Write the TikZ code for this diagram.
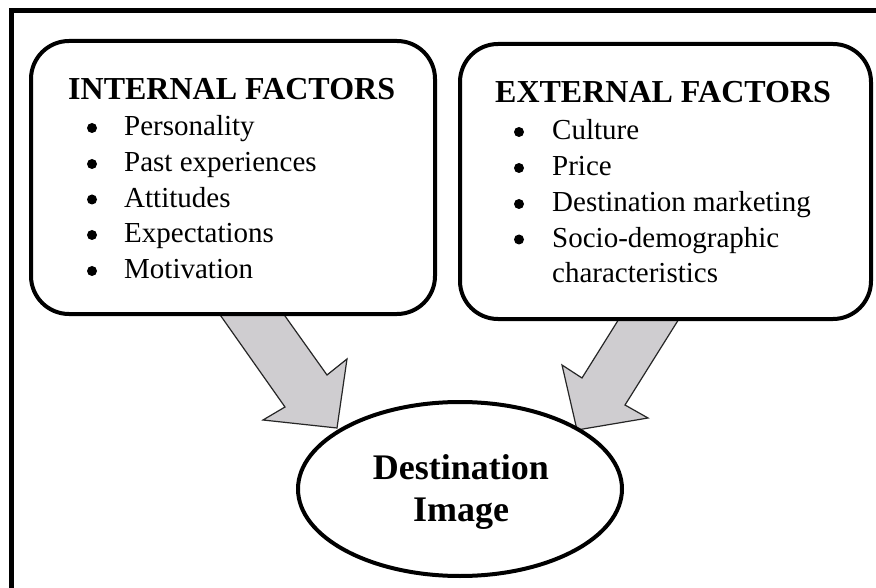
\documentclass[tikz,border=0pt]{standalone}
\usepackage{fontspec}
\setmainfont{Liberation Serif}
\usetikzlibrary{shapes.geometric}
\definecolor{arrowgray}{RGB}{207,205,208}
\begin{document}
\begin{tikzpicture}[x=1pt,y=-1pt,
  factorbox/.style={draw=black, line width=4pt, fill=white, rounded corners=38pt, inner sep=0pt},
  bigarrow/.style={draw=black!85, line width=1.2pt, fill=arrowgray, line join=miter},
  heading/.style={font=\fontsize{32}{36}\selectfont\bfseries, anchor=base west, inner sep=0pt},
  item/.style={font=\fontsize{29}{34}\selectfont, anchor=base west, inner sep=0pt},
  bulletdot/.style={circle, fill=black, minimum size=10pt, inner sep=0pt},
  destlabel/.style={font=\fontsize{36}{42}\selectfont\bfseries, anchor=base, inner sep=0pt}]
\useasboundingbox (0,0) rectangle (876,588);
\fill[white] (0,0) rectangle (876,588);
% outer frame (only left and top edges visible)
\draw[line width=5.5pt, line join=miter] (11.5,590) -- (11.5,10.5) -- (878,10.5);

% arrows
\draw[bigarrow] (209.6,300) -- (273.6,300) -- (327,375) -- (347,359) -- (337,428) -- (263,420) -- (285,407) -- cycle;
\draw[bigarrow] (630.8,300) -- (690.8,300) -- (625,405) -- (648,418) -- (577,430) -- (562,365) -- (582,378) -- cycle;

% boxes
\node[factorbox, minimum width=404pt, minimum height=273pt] (internal) at (233,177.5) {};
\node[factorbox, minimum width=411pt, minimum height=275pt] (external) at (665.5,181.5) {};

% destination ellipse
\node[draw, line width=4pt, fill=white, ellipse, minimum width=324pt, minimum height=174pt, inner sep=0pt] (dest) at (460,489) {};

% internal text
\node[heading] (ih) at (68,100) {INTERNAL FACTORS};
\node[item] (i1) at (124,136) {Personality};
\node[item] (i2) at (124,172) {Past experiences};
\node[item] (i3) at (124,207.5) {Attitudes};
\node[item] (i4) at (124,243) {Expectations};
\node[item] (i5) at (124,279) {Motivation};
\node[bulletdot] (ib1) at (92,128) {};
\node[bulletdot] (ib2) at (92,164) {};
\node[bulletdot] (ib3) at (92,199.5) {};
\node[bulletdot] (ib4) at (92,235) {};
\node[bulletdot] (ib5) at (92,271) {};

% external text
\node[heading] (eh) at (495,103) {EXTERNAL FACTORS};
\node[item] (e1) at (552,140) {Culture};
\node[item] (e2) at (552,176) {Price};
\node[item] (e3) at (552,212) {Destination marketing};
\node[item] (e4) at (552,247.5) {Socio-demographic};
\node[item] (e5) at (552,283) {characteristics};
\node[bulletdot] (eb1) at (519,132) {};
\node[bulletdot] (eb2) at (519,168) {};
\node[bulletdot] (eb3) at (519,204) {};
\node[bulletdot] (eb4) at (519,239.5) {};

% destination text
\node[destlabel] (d1) at (461,479) {Destination};
\node[destlabel] (d2) at (461,521) {Image};
\end{tikzpicture}
\end{document}
